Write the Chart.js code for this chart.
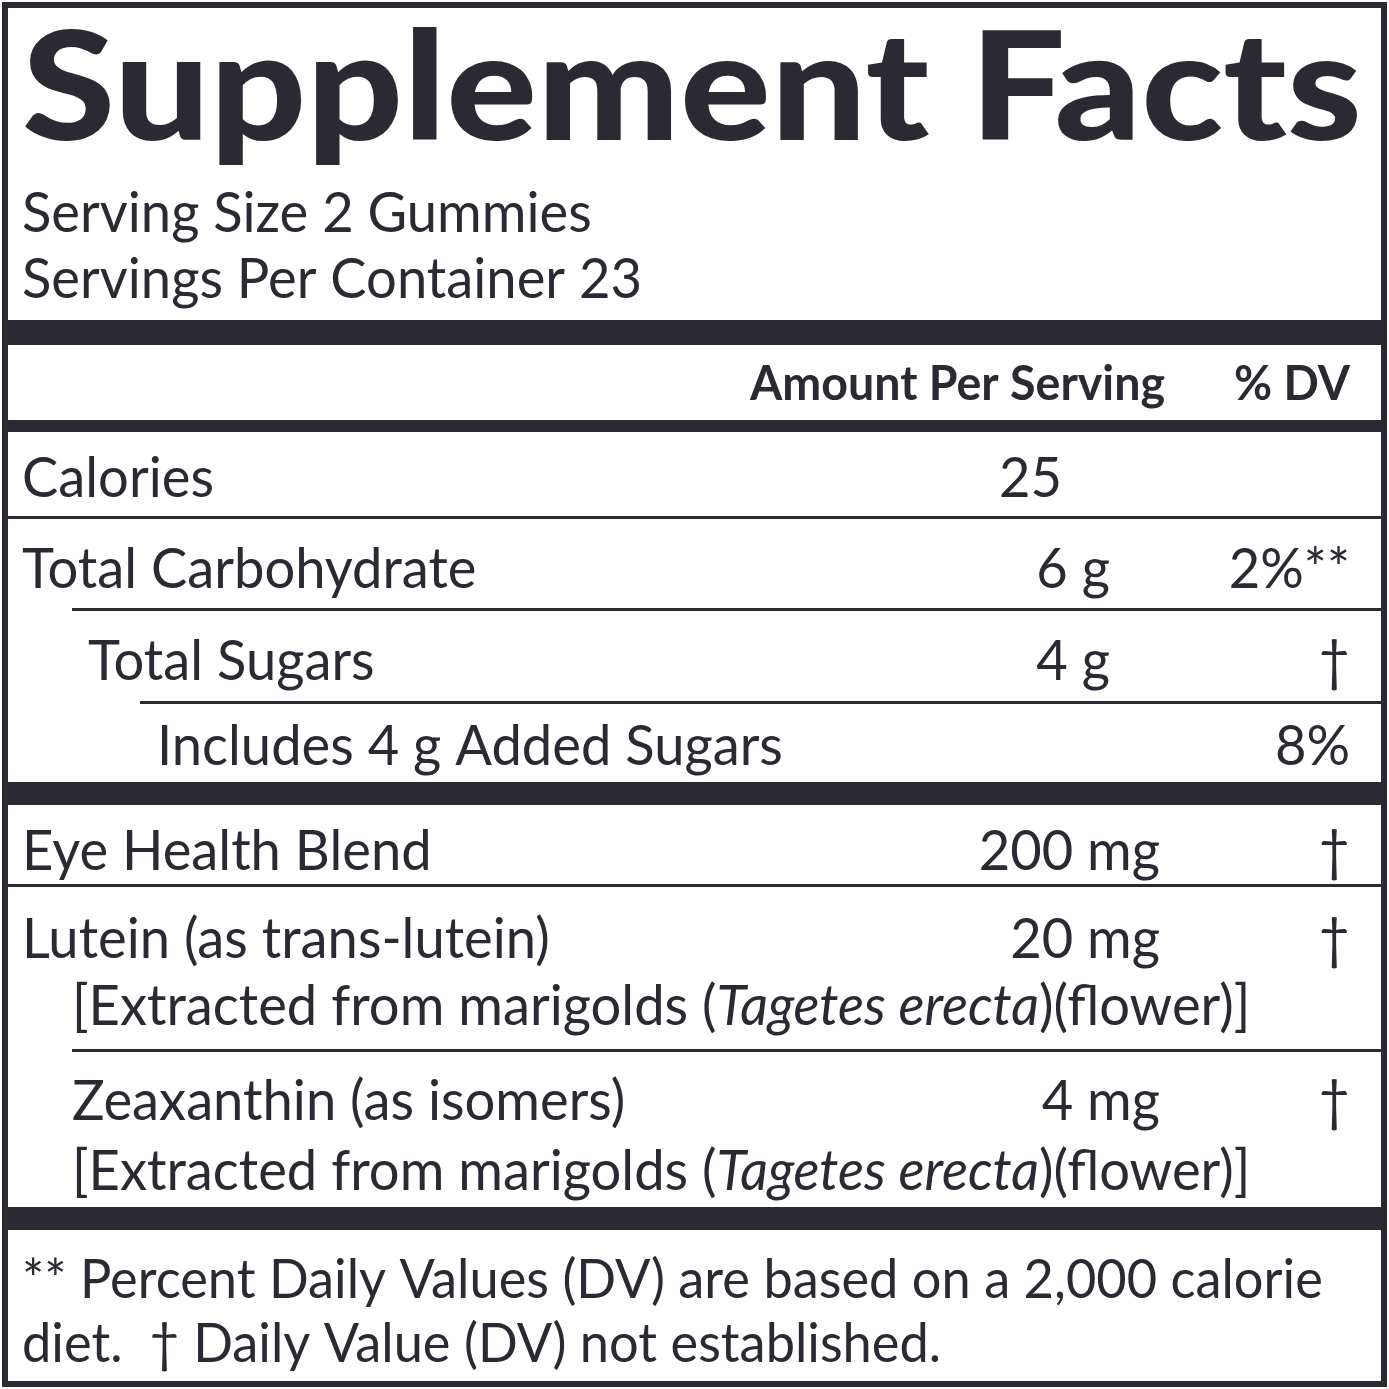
<!DOCTYPE html>
<html>
<head>
<meta charset="utf-8">
<script src="https://cdn.jsdelivr.net/npm/chart.js@4/dist/chart.umd.min.js"></script>
<style>
  html, body { margin: 0; padding: 0; background: #fff; }
  canvas { display: block; }
</style>
</head>
<body>
<canvas id="rotulo" width="1389" height="1389"></canvas>
<script>
const INK = "#2b2a33";
const FONTE = "Lato";

const titulo = "Supplement Facts";
const porcao = ["Serving Size 2 Gummies", "Servings Per Container 23"];
const cabecalho = ["Amount Per Serving", "% DV"];

// linhas de nutrientes
const nomes = ["Calories", "Total Carbohydrate", "Total Sugars", "Includes 4 g Added Sugars",
  "Eye Health Blend", "Lutein (as trans-lutein)", "Zeaxanthin (as isomers)"];
const quantidades = ["25", "6 g", "4 g", "", "200 mg", "20 mg", "4 mg"];
const valoresDiarios = ["", "2%**", "†", "8%", "†", "†", "†"];
const recuos = [22, 22, 88, 157, 22, 22, 72];
const extraido = ["[Extracted from marigolds (", "Tagetes erecta", ")(flower)]"];
const rodape = ["** Percent Daily Values (DV) are based on a 2,000 calorie", "diet.  † Daily Value (DV) not established."];

const linhaBase = [497, 588, 680, 765, 870, 958, 1120];
const qtdDireita = [1062, 1110, 1110, 0, 1160, 1160, 1160];

function texto(ctx, s, x, y, tam, opc = {}) {
  ctx.save();
  ctx.font = `${opc.italico ? "italic " : ""}${opc.peso || 400} ${tam}px ${FONTE}`;
  const sx = opc.sx || 0.97;
  const w = ctx.measureText(s).width * sx;
  let x0 = x;
  if (opc.alinhar === "right") x0 = x - w;
  ctx.translate(x0, y);
  ctx.scale(sx, 1);
  ctx.fillStyle = INK;
  ctx.textBaseline = "alphabetic";
  ctx.fillText(s, 0, 0);
  ctx.restore();
  return w;
}

function faixa(ctx, y, h, x0 = 8) {
  ctx.fillStyle = INK;
  ctx.fillRect(x0, y, 1383 - x0, h);
}

const rotuloPlugin = {
  id: "rotulo",
  afterDraw(chart) {
    const ctx = chart.ctx;
    ctx.fillStyle = "#fff";
    ctx.fillRect(0, 0, 1389, 1389);

    // borda
    ctx.strokeStyle = INK;
    ctx.lineWidth = 6;
    ctx.strokeRect(5, 5, 1379, 1379);

    // título ajustado à largura
    ctx.font = `900 150px ${FONTE}`;
    const wt = ctx.measureText(titulo).width;
    texto(ctx, titulo, 22, 140, 150, { peso: 900, sx: 1340 / wt });

    texto(ctx, porcao[0], 22, 232, 56);
    texto(ctx, porcao[1], 22, 298, 56);

    faixa(ctx, 320, 25);
    texto(ctx, cabecalho[0], 1165, 400, 48, { peso: 700, alinhar: "right" });
    texto(ctx, cabecalho[1], 1350, 400, 48, { peso: 700, alinhar: "right" });
    faixa(ctx, 420, 12);

    nomes.forEach((n, i) => {
      texto(ctx, n, recuos[i], linhaBase[i], 56);
      if (quantidades[i]) texto(ctx, quantidades[i], qtdDireita[i], linhaBase[i], 56, { alinhar: "right" });
      if (valoresDiarios[i]) texto(ctx, valoresDiarios[i], 1350, linhaBase[i], 56, { alinhar: "right" });
    });

    // sublinhas extraído
    [1025, 1190].forEach(y => {
      let x = 72;
      extraido.forEach((p, k) => {
        x += texto(ctx, p, x, y, 56, { italico: k === 1 });
      });
    });

    faixa(ctx, 516, 3);
    faixa(ctx, 608, 3, 72);
    faixa(ctx, 701, 3, 140);
    faixa(ctx, 782, 23);
    faixa(ctx, 884, 3);
    faixa(ctx, 1049, 3, 72);
    faixa(ctx, 1207, 23);

    texto(ctx, rodape[0], 22, 1298, 54);
    texto(ctx, rodape[1], 22, 1362, 54);
  }
};

new Chart(document.getElementById("rotulo"), {
  type: "bar",
  data: { labels: [], datasets: [] },
  options: {
    responsive: false,
    animation: false,
    plugins: { legend: { display: false }, tooltip: { enabled: false } },
    scales: { x: { display: false }, y: { display: false } }
  },
  plugins: [rotuloPlugin]
});
</script>
</body>
</html>
